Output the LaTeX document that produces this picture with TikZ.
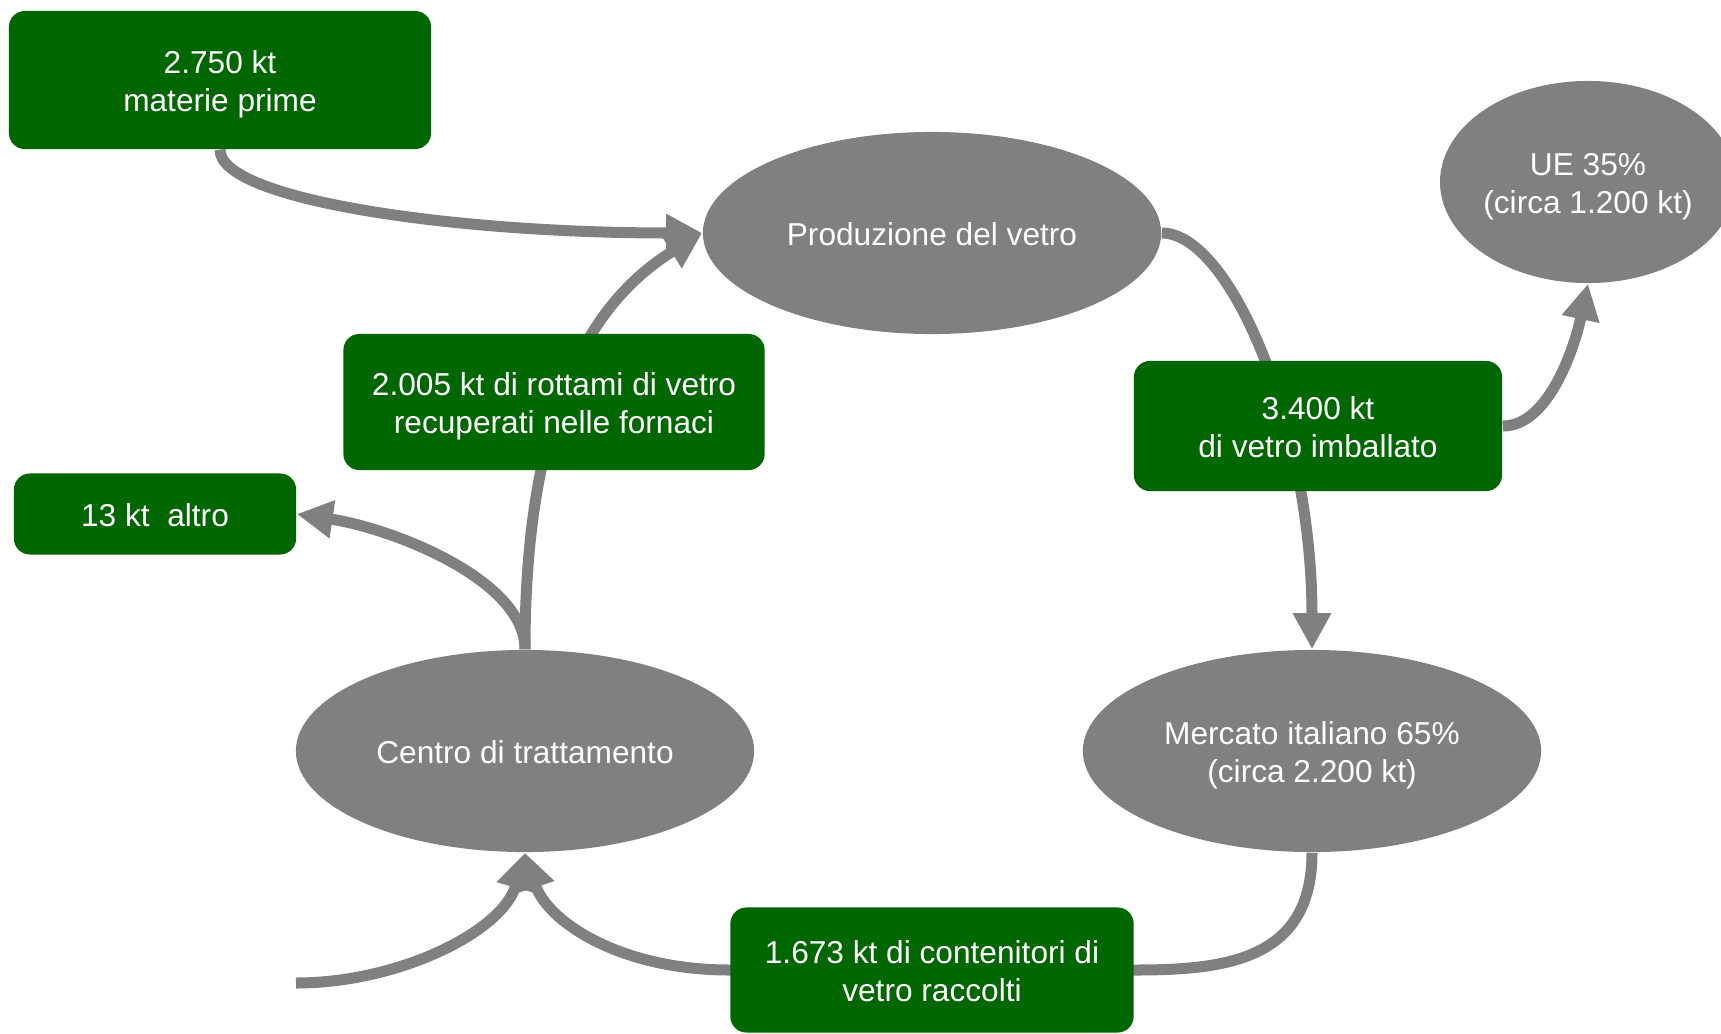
\documentclass[tikz,border=0pt]{standalone}
\usepackage{fontspec}
\setmainfont{Liberation Sans}
\usetikzlibrary{shapes.geometric,arrows.meta,backgrounds}
\definecolor{boxgreen}{RGB}{0,102,0}
\definecolor{stagegray}{RGB}{128,128,128}
\tikzset{%
	box/.style      = {fill=boxgreen, text=white, rounded corners=0.16cm, align=center, inner sep=0pt,
	                   text height=7.2pt, text depth=0pt}, % Quantities
	stage/.style    = {ellipse, fill=stagegray, text=white, align=center, inner sep=0pt,
	                   text height=7.2pt, text depth=0pt, minimum width=4.58cm, minimum height=2.02cm}, % Stages
	twolines/.style = {text height=18.1pt}, % second line of text
	flow/.style     = {draw=stagegray, line width=0.11cm} % Connectors
}

\begin{document}
\begin{tikzpicture}[x=0.01cm, y=0.01cm, font=\fontsize{9}{10.9}\selectfont, >={Triangle[length=0.36cm, width=0.36cm]}]
	\useasboundingbox (0,0) rectangle (1721,-1033);
	\clip (0,0) rectangle (1721,-1033);

	% Stages of the glass cycle :
	\node at (932,-233) [stage] (produzione) {Produzione del vetro};
	\node at (1588,-182) [stage, twolines, minimum width=2.88cm] (ue) {UE 35\%\\(circa 1.200 kt)};
	\node at (1312,-751) [stage, twolines] (mercato) {Mercato italiano 65\%\\(circa 2.200 kt)};
	\node at (525,-751) [stage] (trattamento) {Centro di trattamento};

	% Quantities
	\node at (220,-80) [box, twolines, minimum width=4.22cm, minimum height=1.38cm] (materie) {2.750 kt\\materie prime};
	\node at (554,-402) [box, twolines, minimum width=4.21cm, minimum height=1.36cm] (rottami) {2.005 kt di rottami di vetro\\recuperati nelle fornaci};
	\node at (155,-514) [box, minimum width=2.82cm, minimum height=0.81cm] (altro) {13 kt~ altro};
	\node at (1318,-426) [box, twolines, minimum width=3.68cm, minimum height=1.30cm] (imballato) {3.400 kt\\di vetro imballato};
	\node at (932,-970) [box, twolines, minimum width=4.03cm, minimum height=1.25cm] (raccolti) {1.673 kt di contenitori di\\vetro raccolti};
	\coordinate (rifiuti) at (296,-983);

	% Joining stages, behind the boxes
	\begin{scope}[on background layer]
	\draw[flow, ->] (materie.south) .. controls +(0,-50) and +(-250,0) .. (produzione.west);
	\draw[flow, ->] (trattamento.north) .. controls +(0,270) and +(-92,-57) .. (produzione.west);
	\draw[flow, ->] (trattamento.north) .. controls +(0,70) and +(94,-14) .. (altro.east);
	\draw[flow, ->] (produzione.east) .. controls +(69,0) and +(0,220) .. (mercato.north);
	\draw[flow, ->] (imballato.east) .. controls +(48,0) and +(-12,-57) .. (ue.south);
	\draw[flow, ->] (mercato.south) .. controls +(0,-108) and +(90,0) .. (raccolti.east) -- (raccolti.west)
		.. controls +(-111,0) and +(22,-68) .. (trattamento.south);
	\draw[flow, ->] (rifiuti) .. controls +(104,0) and +(-22,-78) .. (trattamento.south);
	\end{scope}
\end{tikzpicture}
\end{document}
